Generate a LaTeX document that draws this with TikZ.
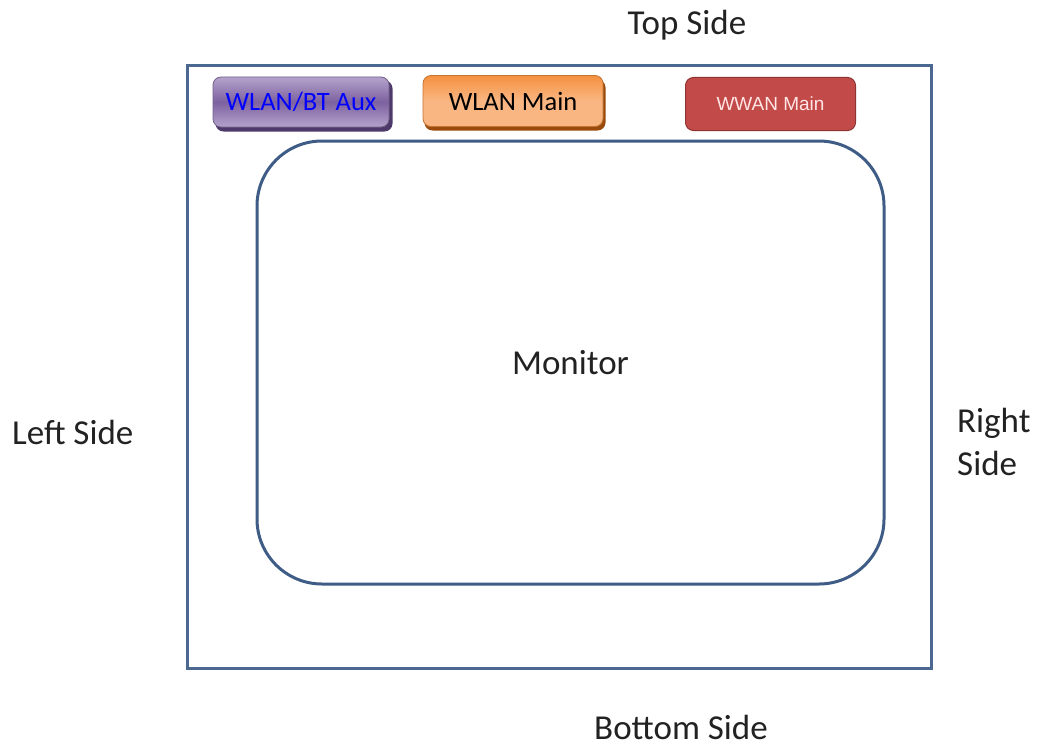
\documentclass[tikz,border=0pt]{standalone}
\usepackage{fontspec}
\setmainfont{Carlito}
\newfontfamily\arialfont{Liberation Sans}
\definecolor{frameblue}{HTML}{4A6890}
\definecolor{monblue}{HTML}{3E5C86}
\definecolor{purpmid}{HTML}{7D61A0}
\definecolor{purplight}{HTML}{B4A3CB}
\definecolor{purpdark}{HTML}{4E3A6A}
\definecolor{orgmid}{HTML}{F5913F}
\definecolor{orglight}{HTML}{F9B683}
\definecolor{orgdark}{HTML}{9A4A0A}
\definecolor{redfill}{HTML}{C24B49}
\definecolor{reddark}{HTML}{8E3432}
\definecolor{txtgray}{HTML}{222222}
\tikzset{
  sidelabel/.style={font=\fontsize{35}{43}\selectfont, text=txtgray, inner sep=0pt},
  chip/.style={rounded corners=8pt, inner sep=0pt, font=\fontsize{26.5}{30}\selectfont},
}
\begin{document}
\begin{tikzpicture}[x=1pt,y=-1pt]
\useasboundingbox[fill=white] (0,0) rectangle (1040,749);
% outer frame
\node[draw=frameblue, line width=3pt, minimum width=744pt, minimum height=602pt, inner sep=0pt] (frame) at (559,367) {};
% monitor
\node[draw=monblue, line width=3pt, rounded corners=65pt, minimum width=627pt, minimum height=443pt, inner sep=0pt, font=\fontsize{35}{43}\selectfont, text=txtgray] (monitor) at (570.5,362.5) {Monitor};
% WLAN/BT Aux
\node[chip, fill=purpdark, minimum width=177pt, minimum height=51pt] (auxsh) at (304,106) {};
\node[chip, draw=purpdark!80, line width=0.8pt, top color=purplight, bottom color=purplight, middle color=purpmid, minimum width=176pt, minimum height=50pt, text=blue] (aux) at (301,102) {WLAN/BT Aux};
% WLAN Main
\node[chip, fill=orgdark, minimum width=181pt, minimum height=51pt] (mainsh) at (515,105) {};
\node[chip, draw=orgmid!80!black, line width=0.8pt, top color=orgmid, bottom color=orglight, middle color=orglight, minimum width=180pt, minimum height=51pt, text=black] (wlan) at (513,101) {WLAN Main};
% WWAN Main
\node[chip, fill=redfill, draw=reddark, line width=1pt, minimum width=170pt, minimum height=53pt, text=white!90!red, font=\arialfont\fontsize{19}{22}\selectfont] (wwan) at (770.5,104) {WWAN Main};
% side labels
\node[sidelabel] (top) at (687,25) {Top Side};
\node[sidelabel, anchor=west] (left) at (12,432) {Left Side};
\node[sidelabel, anchor=west, align=left] (right) at (957,442) {Right\\Side};
\node[sidelabel] (bottom) at (681,727) {Bottom Side};
\end{tikzpicture}
\end{document}
